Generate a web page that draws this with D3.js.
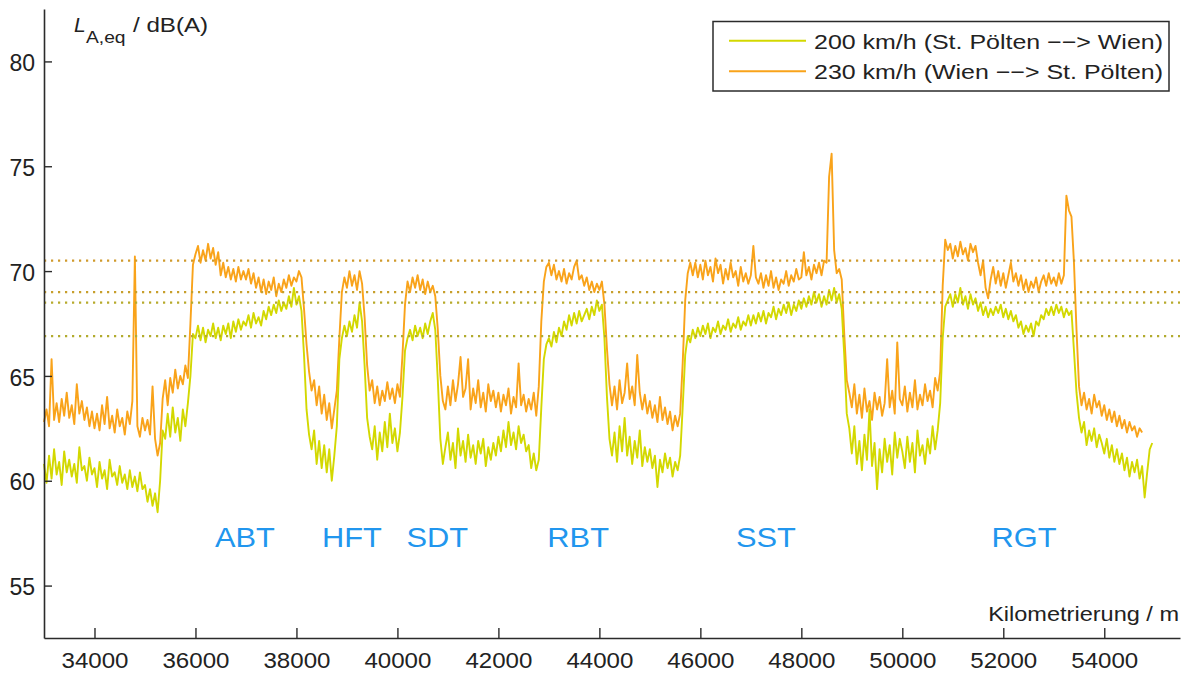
<!DOCTYPE html>
<html>
<head>
<meta charset="utf-8">
<script src="https://cdn.jsdelivr.net/npm/d3@7"></script>
<style>
  body { margin: 0; background: #fff; }
  svg { display: block; font-family: "Liberation Sans", Arial, Helvetica, sans-serif; }
</style>
</head>
<body>
<svg id="chart" width="1190" height="677"></svg>
<script>
// Sampling grid of the measurement runs (metres of track chainage)
const kmStart = 33000;
const kmStep = 50;

// L_A,eq in dB(A), 230 km/h run (Wien --> St. Pölten), one value per 50 m from 33000 m
const level230 = [
  62.8, 63.4, 62.6, 65.8, 62.9, 63.7, 62.8, 63.9, 63.1, 64.2, 63.0, 63.6, 62.7, 64.6, 63.2, 63.8, 62.9, 63.5, 62.6, 63.3,
  62.5, 63.2, 62.4, 63.6, 62.7, 64.0, 62.5, 63.1, 62.3, 63.4, 62.6, 63.0, 62.2, 63.3, 62.7, 63.8, 70.7, 62.6, 62.1, 63.0,
  62.4, 62.9, 62.2, 64.5, 62.0, 61.2, 61.8, 63.9, 64.8, 63.6, 64.9, 64.2, 65.3, 64.4, 65.0, 64.6, 65.5, 64.9, 67.5, 70.3,
  70.8, 71.2, 70.4, 71.0, 70.5, 71.3, 70.6, 71.1, 70.3, 70.9, 69.8, 70.4, 69.7, 70.2, 69.6, 70.1, 69.5, 70.2, 69.6, 70.0,
  69.6, 70.1, 69.4, 69.9, 69.2, 69.7, 69.0, 69.6, 68.9, 69.5, 69.1, 69.7, 68.8, 69.4, 69.0, 69.6, 69.2, 69.8, 69.3, 69.7,
  69.5, 70.0, 69.7, 68.2, 66.5, 65.2, 64.3, 64.8, 63.6, 64.5, 63.2, 64.1, 62.9, 63.7, 62.5, 63.4, 64.3, 66.8, 69.0, 69.7,
  69.2, 70.0, 69.3, 69.8, 69.1, 70.0, 69.4, 67.8, 65.5, 64.3, 64.8, 63.7, 64.5, 63.6, 64.3, 63.8, 64.7, 63.9, 64.4, 63.7,
  64.6, 64.0, 66.0, 68.4, 69.5, 69.0, 69.7, 69.2, 69.8, 69.1, 69.6, 68.9, 69.5, 69.0, 69.3, 68.8, 67.2, 65.0, 63.8, 63.4,
  64.5, 63.6, 64.8, 63.8, 64.6, 65.9, 64.0, 64.4, 65.8, 63.4, 64.4, 63.7, 64.8, 63.5, 64.2, 63.3, 64.6, 63.8, 64.3, 63.5,
  64.2, 63.3, 64.1, 63.6, 64.4, 63.2, 64.0, 63.5, 65.6, 63.6, 64.1, 63.3, 63.9, 63.4, 64.2, 63.1, 64.5, 67.6, 69.5, 70.2,
  70.4, 69.8, 70.3, 69.6, 70.0, 69.5, 70.1, 69.4, 69.9, 69.6, 70.2, 70.5, 69.6, 69.8, 69.3, 69.7, 69.1, 69.5, 69.0, 69.4,
  69.1, 69.5, 68.4, 66.3, 64.6, 63.6, 64.5, 63.4, 64.8, 63.7, 64.2, 65.6, 63.9, 64.5, 63.6, 66.0, 64.2, 63.4, 64.1, 63.2,
  63.8, 63.0, 63.6, 62.8, 64.0, 62.9, 63.5, 62.7, 63.3, 62.4, 63.1, 62.6, 63.2, 65.6, 68.6, 69.9, 70.4, 69.8, 70.4, 69.7,
  70.3, 69.6, 70.5, 69.8, 70.2, 69.5, 70.6, 69.9, 70.3, 69.4, 70.1, 69.6, 70.4, 69.7, 70.0, 69.3, 70.2, 69.5, 69.9, 69.4,
  69.8, 71.2, 69.7, 69.4, 69.9, 69.2, 69.8, 69.3, 70.0, 69.2, 69.7, 69.1, 69.6, 69.4, 70.0, 69.3, 69.8, 69.5, 70.1, 69.6,
  69.7, 70.9, 69.8, 70.2, 69.6, 70.3, 69.9, 70.4, 69.8, 70.5, 70.4, 74.5, 75.6, 71.0, 69.9, 70.1, 69.6, 67.0, 64.8, 64.2,
  63.5, 64.6, 63.2, 64.1, 63.0, 64.4, 63.3, 63.8, 62.9, 64.2, 63.4, 64.0, 63.1, 63.7, 65.8, 63.5, 64.3, 63.2, 66.6, 63.9,
  63.6, 64.5, 63.3, 64.2, 63.5, 64.8, 63.4, 64.1, 63.6, 64.6, 63.8, 64.3, 63.5, 64.9, 64.3, 65.2, 69.3, 71.5, 71.0, 71.3,
  70.6, 71.2, 70.7, 71.4, 70.8, 71.1, 70.5, 71.3, 70.9, 71.2, 70.4, 69.8, 70.5, 69.2, 68.7, 69.6, 70.2, 69.4, 70.0, 69.3,
  69.9, 69.2, 69.8, 70.4, 69.5, 69.9, 69.3, 69.8, 69.1, 69.6, 69.0, 69.5, 69.2, 69.7, 69.0, 69.5, 69.8, 69.3, 69.9, 69.4,
  69.7, 69.3, 69.9, 69.4, 69.8, 73.6, 72.9, 72.6, 70.4, 67.2, 64.5, 63.6, 64.2, 63.4, 63.9, 63.2, 64.1, 63.5, 63.8, 63.1,
  63.6, 62.9, 63.4, 62.8, 63.3, 62.6, 63.1, 62.5, 62.9, 62.3, 62.8, 62.4, 62.6, 62.1, 62.5, 62.3
];

// L_A,eq in dB(A), 200 km/h run (St. Pölten --> Wien), one value per 50 m from 33000 m
const level200 = [
  60.8, 59.9, 61.2, 60.1, 61.5, 60.3, 60.9, 59.8, 61.4, 60.4, 61.0, 60.2, 60.8, 59.9, 61.6, 60.5, 60.7, 60.0, 61.1, 60.3,
  60.6, 59.7, 60.9, 60.1, 60.5, 59.6, 61.0, 60.2, 60.4, 59.8, 60.7, 59.9, 60.3, 59.6, 60.5, 59.7, 60.2, 59.5, 60.4, 59.6,
  59.8, 59.0, 59.6, 58.8, 59.4, 58.5, 60.0, 62.4, 62.0, 63.2, 62.1, 63.5, 62.3, 63.0, 61.9, 63.4, 62.6, 63.7, 65.0, 67.0,
  66.8, 67.4, 66.7, 67.3, 66.6, 67.2, 66.9, 67.5, 66.8, 67.3, 66.7, 67.4, 67.0, 67.5, 66.8, 67.6, 67.1, 67.7, 67.2, 67.6,
  67.4, 67.9, 67.3, 68.0, 67.5, 67.8, 67.4, 68.1, 67.7, 68.3, 67.9, 68.4, 68.0, 68.6, 68.1, 68.5, 68.2, 68.8, 68.3, 69.2,
  68.4, 68.8, 68.1, 66.0, 63.4, 62.2, 61.5, 62.4, 60.8, 61.9, 60.6, 61.7, 60.4, 61.5, 60.0, 61.2, 62.6, 65.8, 66.8, 67.4,
  66.9, 67.6, 67.1, 67.9, 67.3, 68.5, 67.6, 65.5, 63.0, 62.1, 61.5, 62.6, 61.0, 62.3, 61.4, 62.8, 61.6, 63.2, 61.8, 62.5,
  61.4, 62.3, 64.0, 66.2, 66.8, 67.2, 66.7, 67.4, 66.9, 67.3, 66.8, 67.5, 67.0, 67.6, 68.0, 67.2, 64.8, 62.0, 60.8, 61.6,
  62.3, 61.0, 61.8, 60.6, 62.5, 61.2, 61.9, 60.9, 62.2, 61.1, 61.7, 60.8, 61.9, 61.3, 62.0, 60.7, 61.6, 61.0, 61.8, 61.2,
  62.1, 61.4, 62.4, 61.6, 62.8, 61.7, 62.3, 61.5, 62.6, 61.8, 62.2, 61.4, 61.7, 60.6, 61.3, 60.5, 61.0, 63.5, 65.8, 66.5,
  66.8, 66.4, 67.1, 66.6, 67.3, 66.9, 67.6, 67.2, 67.9, 67.4, 68.0, 67.5, 68.1, 67.6, 67.9, 68.2, 67.7, 68.3, 67.9, 68.6,
  68.1, 68.4, 66.8, 64.0, 62.0, 61.2, 62.3, 60.9, 62.6, 61.4, 63.0, 61.2, 62.1, 60.8, 61.9, 61.1, 62.4, 60.7, 61.6, 60.9,
  61.5, 60.6, 61.2, 59.7, 61.0, 60.4, 61.3, 60.6, 61.1, 60.2, 60.9, 60.5, 61.2, 63.5, 66.0, 66.9, 66.6, 67.2, 66.8, 67.3,
  66.9, 67.4, 67.0, 67.5, 66.8, 67.3, 67.1, 67.6, 67.0, 67.4, 67.2, 67.7, 67.1, 67.5, 67.3, 67.8, 67.2, 67.6, 67.4, 67.9,
  67.4, 67.9, 67.5, 68.0, 67.6, 68.1, 67.5, 68.0, 67.8, 68.3, 67.7, 68.2, 67.9, 68.4, 68.0, 68.5, 67.9, 68.4, 68.1, 68.6,
  68.2, 68.7, 68.3, 68.8, 68.4, 69.0, 68.5, 68.9, 68.3, 68.8, 68.4, 69.1, 68.6, 69.2, 68.5, 68.9, 68.2, 66.0, 63.2, 62.5,
  61.3, 62.6, 60.8, 61.9, 60.5, 62.2, 61.0, 63.4, 60.7, 61.8, 59.6, 61.5, 60.4, 62.0, 60.9, 61.7, 60.3, 62.3, 61.1, 62.0,
  61.4, 60.6, 62.1, 60.9, 61.8, 60.4, 62.4, 61.2, 61.7, 60.8, 62.0, 61.3, 62.6, 61.5, 62.4, 63.7, 66.8, 68.3, 68.6, 68.9,
  68.3, 68.9, 68.5, 69.2, 68.4, 68.8, 68.2, 68.9, 68.4, 68.7, 68.1, 68.5, 67.9, 68.3, 67.8, 68.2, 67.9, 68.3, 68.0, 68.4,
  67.8, 68.2, 67.7, 68.1, 67.6, 67.9, 67.3, 67.6, 67.0, 67.4, 67.1, 67.5, 66.9, 67.6, 67.4, 67.9, 67.7, 68.2, 67.9, 68.3,
  67.9, 68.4, 68.0, 68.3, 67.8, 68.2, 67.9, 68.1, 66.2, 64.2, 63.0, 62.3, 62.8, 61.7, 62.4, 61.9, 62.5, 61.6, 62.2, 61.8,
  61.3, 62.0, 61.1, 61.7, 60.9, 61.5, 60.8, 61.3, 60.5, 61.1, 60.2, 60.9, 60.4, 61.0, 60.1, 60.7, 59.2, 60.4, 61.5, 61.8
];

// Horizontal reference levels in dB(A)
const referenceLevels = [70.5, 69.0, 68.5, 66.9];

// Track sections and where their names sit along the chainage
const sectionNames = ["ABT", "HFT", "SDT", "RBT", "SST", "RGT"];
const sectionKm = [36980, 39100, 40790, 43580, 47300, 52410];
const sectionLabelLevel = 56.85;

// Axis ticks
const xTickValues = [34000, 36000, 38000, 40000, 42000, 44000, 46000, 48000, 50000, 52000, 54000];
const yTickValues = [55, 60, 65, 70, 75, 80];

const seriesLabels = ["200 km/h (St. Pölten \u2212\u2212> Wien)", "230 km/h (Wien \u2212\u2212> St. Pölten)"];

// ---- styling ----
const colour200 = "#d3d800";
const colour230 = "#f9a31a";
const referenceColours = ["#d09a2c", "#c79f2c", "#b7aa2c", "#b2ab2e"];
const axisColour = "#2b2b2b";
const textColour = "#222";
const sectionColour = "#2196ee";

const svg = d3.select("#chart");

const x = d3.scaleLinear().domain([33000, 55500]).range([44, 1180]);
const y = d3.scaleLinear().domain([52.5, 82.5]).range([638, 9]);

function toPoints(values) {
  return values.map((v, i) => ({ km: kmStart + i * kmStep, v }));
}

const line = d3.line()
  .x(d => x(d.km))
  .y(d => y(d.v));

// stretch text horizontally by a factor (the figure's lettering runs wide)
function widen(sel, factor) {
  sel.each(function () {
    const w = this.getComputedTextLength();
    d3.select(this).attr("textLength", w * factor).attr("lengthAdjust", "spacingAndGlyphs");
  });
}

// ---- series ----
const plot = svg.append("g");
plot.append("path")
  .datum(toPoints(level230))
  .attr("fill", "none")
  .attr("stroke", colour230)
  .attr("stroke-width", 1.9)
  .attr("stroke-linejoin", "round")
  .attr("d", line);

plot.append("path")
  .datum(toPoints(level200))
  .attr("fill", "none")
  .attr("stroke", colour200)
  .attr("stroke-width", 1.9)
  .attr("stroke-linejoin", "round")
  .attr("d", line);

// ---- dotted reference levels ----
svg.append("g")
  .selectAll("line")
  .data(referenceLevels)
  .join("line")
  .attr("x1", x(33000))
  .attr("x2", x(55500))
  .attr("y1", d => y(d))
  .attr("y2", d => y(d))
  .attr("stroke", (d, i) => referenceColours[i])
  .attr("stroke-width", 2.2)
  .attr("stroke-dasharray", "2.2 4.8");

// ---- axes ----
const xAxis = d3.axisBottom(x)
  .tickValues(xTickValues)
  .tickFormat(d3.format("d"))
  .tickSizeInner(-10)
  .tickSizeOuter(0)
  .tickPadding(15);

const gx = svg.append("g")
  .attr("transform", `translate(0,${y(52.5)})`)
  .call(xAxis);
gx.select(".domain").attr("stroke", axisColour).attr("stroke-width", 1.6);
gx.selectAll(".tick line").attr("stroke", axisColour).attr("stroke-width", 1.4);
gx.selectAll(".tick text")
  .attr("fill", textColour)
  .style("font-size", "21.5px")
  .style("font-family", "'Liberation Sans', Arial, sans-serif")
  .call(widen, 1.12);

const yAxis = d3.axisLeft(y)
  .tickValues(yTickValues)
  .tickSizeInner(-8)
  .tickSizeOuter(0)
  .tickPadding(9);

const gy = svg.append("g")
  .attr("transform", `translate(${x(33000)},0)`)
  .call(yAxis);
gy.select(".domain").attr("stroke", axisColour).attr("stroke-width", 1.6);
gy.selectAll(".tick line").attr("stroke", axisColour).attr("stroke-width", 1.4);
gy.selectAll(".tick text")
  .attr("fill", textColour)
  .attr("dy", "0.4em")
  .style("font-size", "23px")
  .style("font-family", "'Liberation Sans', Arial, sans-serif");

// ---- axis titles ----
const yTitle = svg.append("g").attr("fill", textColour);
yTitle.append("text")
  .attr("x", 74).attr("y", 32)
  .style("font-size", "21px").style("font-style", "italic")
  .text("L");
yTitle.append("text")
  .attr("x", 86).attr("y", 43)
  .style("font-size", "16px")
  .text("A,eq")
  .call(widen, 1.2);
yTitle.append("text")
  .attr("x", 133).attr("y", 32)
  .style("font-size", "21px")
  .text("/ dB(A)")
  .call(widen, 1.15);

svg.append("text")
  .attr("x", 1179).attr("y", 621)
  .attr("text-anchor", "end")
  .attr("fill", textColour)
  .style("font-size", "21px")
  .text("Kilometrierung / m")
  .call(widen, 1.12);

// ---- section names ----
svg.append("g")
  .selectAll("text")
  .data(sectionNames)
  .join("text")
  .attr("x", (d, i) => x(sectionKm[i]))
  .attr("y", y(sectionLabelLevel))
  .attr("text-anchor", "middle")
  .attr("fill", sectionColour)
  .style("font-size", "28px")
  .text(d => d)
  .call(widen, 1.1);

// ---- legend ----
const legend = svg.append("g");
legend.append("rect")
  .attr("x", 713).attr("y", 21.5)
  .attr("width", 456).attr("height", 69.5)
  .attr("fill", "#fff")
  .attr("stroke", axisColour)
  .attr("stroke-width", 1.5);

const legendColours = [colour200, colour230];
const rows = legend.selectAll("g.row")
  .data(seriesLabels)
  .join("g")
  .attr("class", "row")
  .attr("transform", (d, i) => `translate(0,${i * 30.5})`);
rows.append("line")
  .attr("x1", 729).attr("x2", 806)
  .attr("y1", 40.7).attr("y2", 40.7)
  .attr("stroke", (d, i) => legendColours[i])
  .attr("stroke-width", 2);
rows.append("text")
  .attr("x", 814).attr("y", 48.5)
  .attr("fill", textColour)
  .style("font-size", "20.5px")
  .text(d => d)
  .attr("textLength", 349)
  .attr("lengthAdjust", "spacingAndGlyphs");
</script>
</body>
</html>
